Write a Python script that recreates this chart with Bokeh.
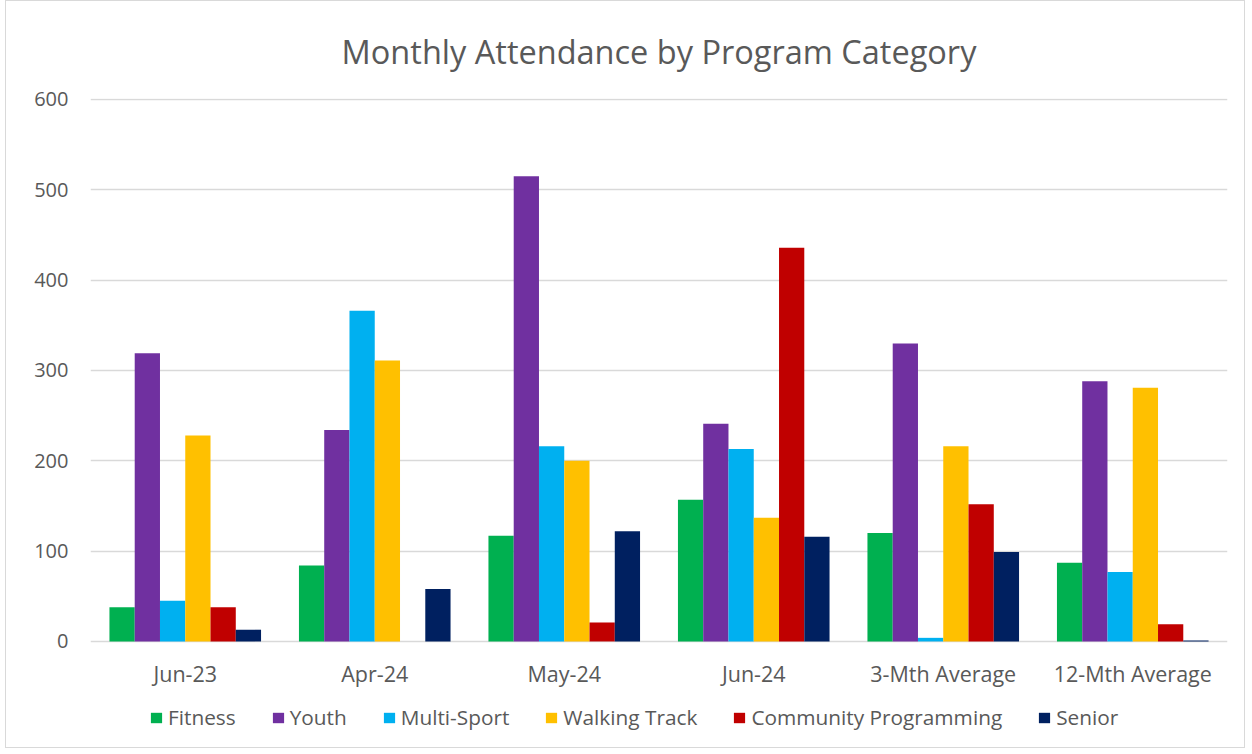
from bokeh.plotting import figure
from bokeh.models import FactorRange, Range1d, Legend, LegendItem, ColumnDataSource, FixedTicker
from bokeh.transform import dodge
from bokeh.core.properties import value
from bokeh.embed import file_html
from bokeh.resources import INLINE

categories = ["Jun-23", "Apr-24", "May-24", "Jun-24", "3-Mth Average", "12-Mth Average"]
fitness = [38, 84, 117, 157, 120, 87]
youth = [319, 234, 515, 241, 330, 288]
multi_sport = [45, 366, 216, 213, 4, 77]
walking_track = [228, 311, 200, 137, 216, 281]
community_programming = [38, 0, 21, 436, 152, 19]
senior = [13, 58, 122, 116, 99, 1]
y_ticks = [0, 100, 200, 300, 400, 500, 600]

series_names = ["Fitness", "Youth", "Multi-Sport", "Walking Track", "Community Programming", "Senior"]
series_keys = ["fitness", "youth", "multi_sport", "walking_track", "community_programming", "senior"]
colors = ["#00B050", "#7030A0", "#00B0F0", "#FFC000", "#C00000", "#002060"]

source = ColumnDataSource(data=dict(
    cat=categories, base=[0] * len(categories),
    fitness=fitness, youth=youth, multi_sport=multi_sport,
    walking_track=walking_track, community_programming=community_programming, senior=senior))

FONT = "Open Sans"
TEXT = "#595959"
GRID = "#D9D9D9"

p = figure(x_range=FactorRange(*categories), y_range=Range1d(-117.4, 601.1),
           frame_width=1137, frame_height=649, output_backend="svg", toolbar_location=None,
           x_axis_location=None,
           min_border_left=84, min_border_right=17, min_border_top=88, min_border_bottom=0)

p.styles = {"border": "1px solid #D9D9D9", "margin": "0px 5px 5px 5px"}

bw = 0.8 / 6
items = []
for i, (key, name, col) in enumerate(zip(series_keys, series_names, colors)):
    off = (i - 2.5) * bw
    r = p.vbar(x=dodge("cat", off, range=p.x_range), top=key, bottom=0, width=bw, source=source,
               fill_color=col, line_color=None)
    items.append(LegendItem(label=name, renderers=[r]))

# category labels under the baseline
p.text(x="cat", y="base", text="cat", source=source, y_offset=32,
       text_align="center", text_baseline="middle",
       text_font=value(FONT), text_font_size="21.5px", text_color=TEXT)

p.title.text = "Monthly Attendance by Program Category"
p.title.align = "center"
p.title.text_font = FONT
p.title.text_font_size = "32.5px"
p.title.text_font_style = "normal"
p.title.text_color = TEXT
p.title.standoff = 50

p.yaxis.ticker = FixedTicker(ticks=y_ticks)
p.yaxis.axis_line_color = None
p.yaxis.major_tick_line_color = None
p.yaxis.minor_tick_line_color = None
p.yaxis.major_label_text_font = FONT
p.yaxis.major_label_text_font_size = "20px"
p.yaxis.major_label_text_color = TEXT
p.yaxis.major_label_standoff = 16

p.xgrid.grid_line_color = None
p.ygrid.grid_line_color = GRID
p.ygrid.grid_line_width = 1.5
p.outline_line_color = None

legend = Legend(items=items, orientation="horizontal", location=(59, 16),
                label_text_font=FONT, label_text_font_size="20.8px", label_text_color=TEXT,
                glyph_width=14, glyph_height=13, spacing=35, label_standoff=5,
                border_line_color=None, background_fill_alpha=0, padding=0, margin=0)
p.add_layout(legend, "center")

open("out.html", "w").write(file_html(p, INLINE))
